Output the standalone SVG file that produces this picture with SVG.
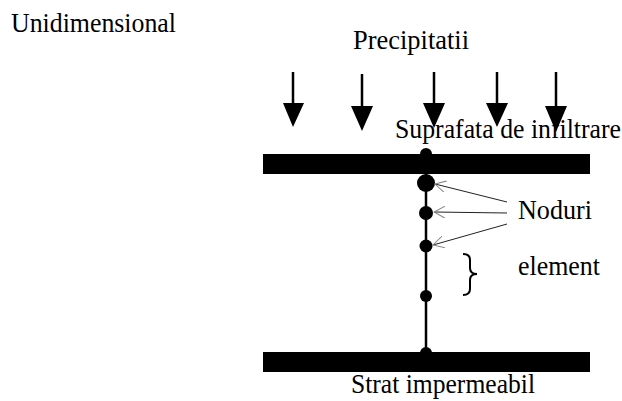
<svg xmlns="http://www.w3.org/2000/svg" width="622" height="401" viewBox="0 0 622 401">
<style>
text{font-family:"Liberation Serif","Times New Roman",serif;font-size:27px;fill:#000}
.bar{fill:#000}
.col{stroke:#000;stroke-width:2.5}
.node{fill:#000}
.rain{stroke:#000;stroke-width:2.5}
.ptr{stroke:#222;stroke-width:1;fill:none}
</style>
<defs>
<marker id="ah" markerWidth="12" markerHeight="12" refX="11" refY="6" orient="auto" markerUnits="userSpaceOnUse" viewBox="0 0 12 12">
<path d="M0,0 L11,6 L0,12" fill="none" stroke="#888" stroke-width="1"/>
</marker>
</defs>
<rect width="622" height="401" fill="#fff"/>
<text x="11" y="32" textLength="165" lengthAdjust="spacingAndGlyphs">Unidimensional</text>
<text x="353" y="49" textLength="116" lengthAdjust="spacingAndGlyphs">Precipitatii</text>
<text x="395" y="138" textLength="226" lengthAdjust="spacingAndGlyphs">Suprafata de infiltrare</text>
<g id="rain">
<line class="rain" x1="293" y1="72" x2="293" y2="105"/><polygon points="283,103 304,103 293,127"/>
<line class="rain" x1="362" y1="74" x2="362" y2="108"/><polygon points="351,106 373,106 362,131"/>
<line class="rain" x1="434" y1="72" x2="434" y2="105"/><polygon points="423,103 445,103 434,128"/>
<line class="rain" x1="497" y1="72" x2="497" y2="105"/><polygon points="486,103 508,103 497,127"/>
<line class="rain" x1="556" y1="72" x2="556" y2="108"/><polygon points="545,106 567,106 556,132"/>
</g>
<g id="top-surface">
<rect class="bar" x="263" y="154" width="327" height="20"/>
</g>
<g id="column">
<line class="col" x1="426" y1="152" x2="426" y2="354"/>
<circle class="node" cx="426" cy="154" r="6"/>
<circle class="node" cx="426" cy="353" r="6"/>
</g>
<g id="node1"><circle class="node" cx="426" cy="183" r="9"/></g>
<g id="node2"><circle class="node" cx="426" cy="213" r="7"/></g>
<g id="node3"><circle class="node" cx="426" cy="246" r="6.5"/></g>
<g id="node4"><circle class="node" cx="426" cy="296" r="6"/></g>
<g id="bottom-layer">
<rect class="bar" x="263" y="352" width="327" height="20"/>
</g>
<text x="351" y="393" textLength="184" lengthAdjust="spacingAndGlyphs">Strat impermeabil</text>
<g id="connectors">
<line class="ptr" x1="507" y1="202" x2="435" y2="184" marker-end="url(#ah)"/>
<line class="ptr" x1="507" y1="213" x2="434" y2="212" marker-end="url(#ah)"/>
<line class="ptr" x1="507" y1="224" x2="433" y2="245" marker-end="url(#ah)"/>
</g>
<text x="518" y="219" textLength="74" lengthAdjust="spacingAndGlyphs">Noduri</text>
<g id="brace">
<path d="M463,254 Q470,254 470,260 L470,268 Q470,274 477,274 Q470,274 470,280 L470,289 Q470,295 463,295" fill="none" stroke="#000" stroke-width="2"/>
</g>
<text x="518" y="275" textLength="82" lengthAdjust="spacingAndGlyphs">element</text>
</svg>
